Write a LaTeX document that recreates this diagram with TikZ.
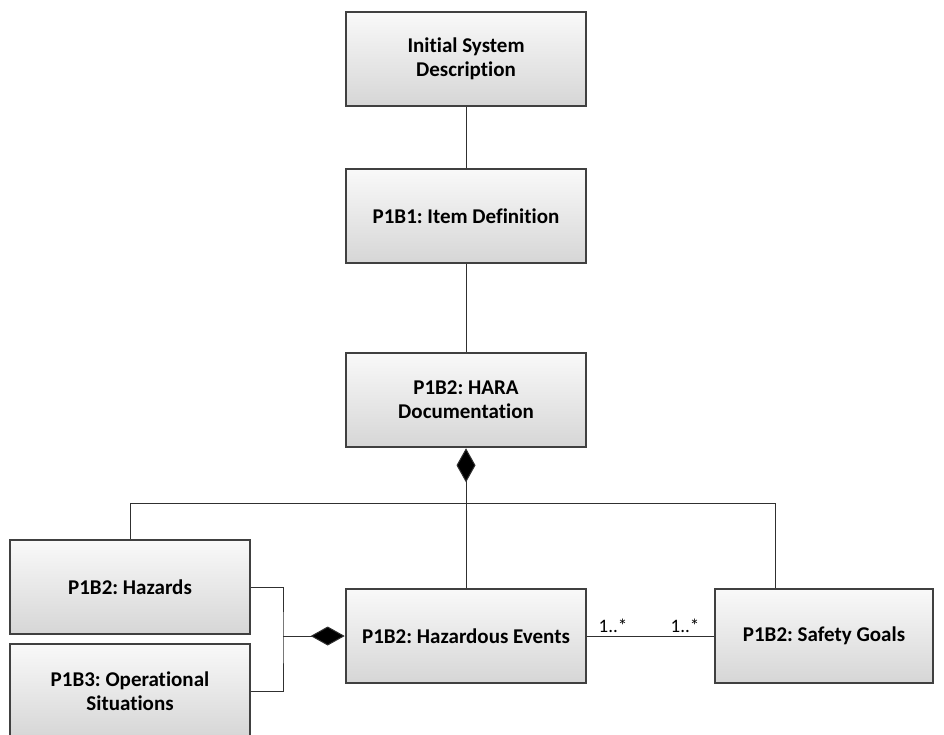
\documentclass[tikz,border=0pt]{standalone}
\usepackage{fontspec}
\setmainfont{Carlito}[Ligatures=NoCommon]
\usetikzlibrary{arrows.meta}
\definecolor{boxedge}{HTML}{404040}
\definecolor{boxtop}{HTML}{F9F9F9}
\definecolor{boxbottom}{HTML}{D6D6D6}
\definecolor{wire}{HTML}{303030}
\tikzset{
  block/.style={rectangle, draw=boxedge, line width=2.6pt,
    top color=boxtop, bottom color=boxbottom,
    minimum width=240pt, minimum height=94pt, inner sep=2pt,
    align=center, font=\fontsize{21}{24}\selectfont\bfseries\frenchspacing},
  wireline/.style={draw=wire, line width=1pt},
  comp/.style={wireline, {Diamond[length=34pt,width=19pt,fill=black]}-},
  mult/.style={font=\fontsize{19}{21}\selectfont, text=black, inner sep=0pt, anchor=base}
}
\begin{document}
\begin{tikzpicture}[x=1pt,y=-1pt]
  \useasboundingbox (0,0) rectangle (944,735);
  \begin{scope}
    \clip (0,0) rectangle (944,735);
    % artefact blocks
    \node[block] (isd)  at (466,59)  {Initial System\\Description};
    \node[block] (item) at (466,216) {P1B1: Item Definition};
    \node[block] (hara) at (466,400) {P1B2: HARA\\Documentation};
    \node[block] (haz)  at (130,587) {P1B2: Hazards};
    \node[block] (ops)  at (130,691) {P1B3: Operational\\Situations};
    \node[block] (hev)  at (466,636) {P1B2: Hazardous Events};
    \node[block, minimum width=218pt] (sg) at (824,636) {P1B2: Safety Goals};

    % trunk junctions
    \coordinate (bar)  at (466,503);
    \coordinate (left) at (283,636);
    \coordinate (sgup) at (775,588);

    % plain associations down the chain
    \draw[wireline] (isd.south) -- (item.north);
    \draw[wireline] (item.south) -- (hara.north);

    % HARA documentation composition
    \draw[comp] (hara.south) -- (hev.north);
    \draw[wireline] (haz.north) |- (bar);
    \draw[wireline] (sgup) |- (bar);

    % hazards and operational situations compose hazardous events
    \draw[wireline] (haz.east) -| (left) |- (ops.east);
    \draw[comp] (hev.west) -- (left);

    % many-to-many association
    \draw[wireline] (hev.east) -- (sg.west);
    \node[mult] (m1) at (613,632) {1..*};
    \node[mult] (m2) at (685,632) {1..*};
  \end{scope}
\end{tikzpicture}
\end{document}
